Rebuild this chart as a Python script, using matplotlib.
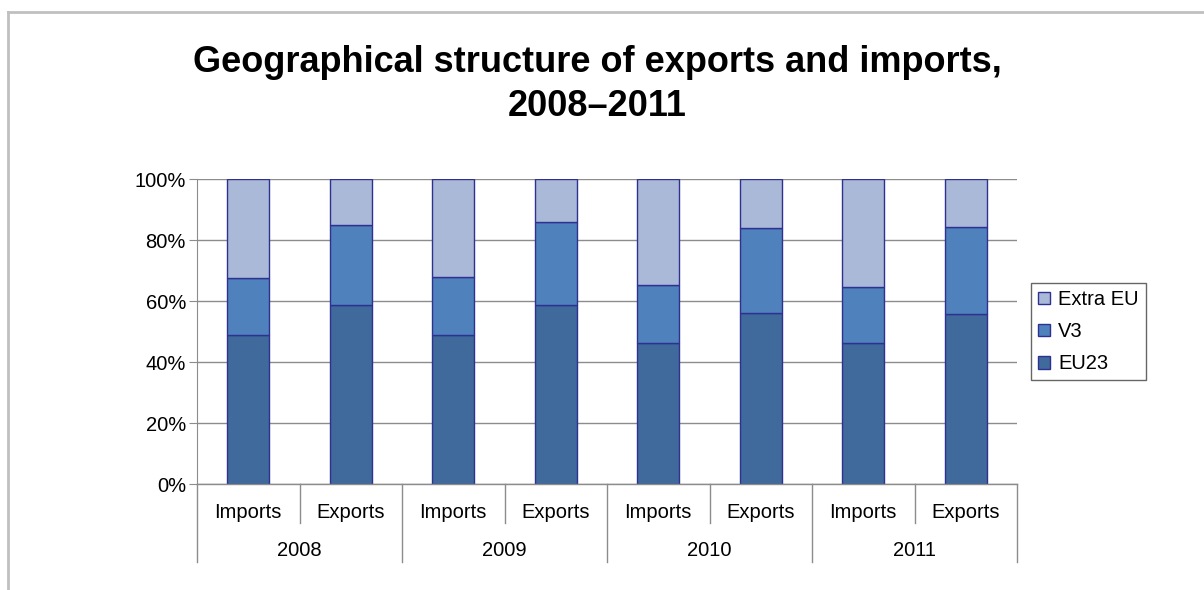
import matplotlib
matplotlib.use("Agg")
import matplotlib.pyplot as plt
import matplotlib.transforms as mtransforms
from matplotlib.lines import Line2D
from matplotlib.patches import Patch

plt.rcParams['font.family'] = ['Liberation Sans', 'DejaVu Sans']

years = ["2008", "2009", "2010", "2011"]
flows = ["Imports", "Exports"]
series_names = ["EU23", "V3", "Extra EU"]
eu23 = [48.8, 58.6, 48.8, 58.6, 46.4, 56.2, 46.4, 55.8]
v3 = [18.7, 26.3, 19.2, 27.3, 18.8, 27.8, 18.4, 28.5]
extra_eu = [100 - a - b for a, b in zip(eu23, v3)]
colors = ["#3F6A9B", "#4F81BD", "#AAB9D7"]
edge = "#2E3192"

FS = 14.5
W, H = 1204, 590
fig = plt.figure(figsize=(W / 100, H / 100), dpi=100)
def fx(px): return px / W
def fy(py): return 1 - py / H

ax = fig.add_axes([fx(197), fy(484), fx(1017) - fx(197), fy(179.3) - fy(484)])

x = list(range(len(years) * len(flows)))
bottoms = [0] * len(x)
for vals, col, name in zip([eu23, v3, extra_eu], colors, series_names):
    ax.bar(x, vals, width=0.41, bottom=bottoms, color=col, edgecolor=edge,
           linewidth=1.0, label=name, zorder=3)
    bottoms = [b + v for b, v in zip(bottoms, vals)]

ax.set_xlim(-0.5, len(x) - 0.5)
ax.set_ylim(0, 100)
ax.set_yticks([0, 20, 40, 60, 80, 100])
ax.set_yticklabels([f"{t}%" for t in [0, 20, 40, 60, 80, 100]], fontsize=FS)
ax.yaxis.grid(True, color="#8C8C8C", linewidth=1.0, zorder=0)
ax.set_axisbelow(True)
for s in ["top", "right", "bottom"]:
    ax.spines[s].set_visible(False)
ax.spines["left"].set_color("#8C8C8C")
ax.tick_params(axis="y", length=6, color="#8C8C8C", pad=2)
ax.set_xticks([])
ax.axhline(0, color="#8C8C8C", linewidth=1.0, zorder=4, clip_on=False)

# Hierarchical category axis
trans = mtransforms.blended_transform_factory(ax.transData, fig.transFigure)
for i in range(len(x) + 1):
    xpos = i - 0.5
    bottom_px = 562 if i % 2 == 0 else 523
    ax.add_line(Line2D([xpos, xpos], [fy(484), fy(bottom_px)], transform=trans,
                       color="#8C8C8C", linewidth=1.0, clip_on=False))
for i in x:
    ax.text(i, fy(513), flows[i % 2], transform=trans, ha="center", va="center",
            fontsize=FS)
for j, yr in enumerate(years):
    ax.text(2 * j + 0.5, fy(550), yr, transform=trans, ha="center", va="center",
            fontsize=FS)

# Title
fig.text(fx(597), fy(62), "Geographical structure of exports and imports,",
         ha="center", va="center", fontsize=26, fontweight="bold")
fig.text(fx(597), fy(107), "2008\u20132011",
         ha="center", va="center", fontsize=26, fontweight="bold")

# Legend
handles = [Patch(facecolor=c, edgecolor=edge, linewidth=1.0, label=n)
           for c, n in zip(colors[::-1], series_names[::-1])]
leg = fig.legend(handles=handles, loc="upper left",
                 bbox_to_anchor=(fx(1031), fy(283)), fontsize=FS,
                 frameon=True, fancybox=False, handlelength=0.6, handleheight=0.6,
                 handletextpad=0.4, borderpad=0.35, labelspacing=0.65,
                 borderaxespad=0)
leg.get_frame().set_edgecolor("#404040")
leg.get_frame().set_linewidth(1.0)

# Chart border (partially visible)
fig.add_artist(Line2D([fx(8), 1], [fy(12), fy(12)], color="#C0C0C0", linewidth=2))
fig.add_artist(Line2D([fx(8), fx(8)], [fy(12), 0], color="#C0C0C0", linewidth=2))

fig.savefig("out.png", dpi=100)
